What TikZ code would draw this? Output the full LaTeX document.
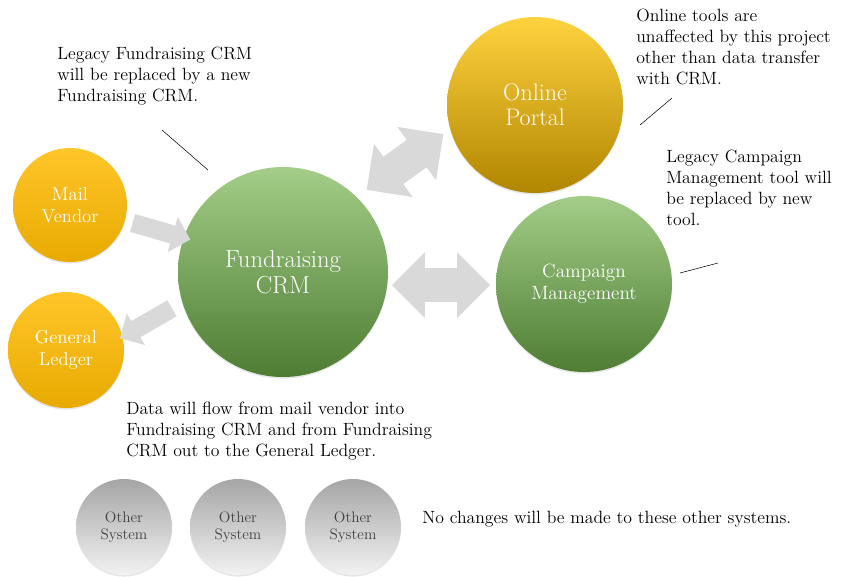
\documentclass[tikz,border=0pt]{standalone}
\usetikzlibrary{shapes.arrows,positioning,shadows}
\definecolor{crmtop}{HTML}{A3CD88}
\definecolor{crmmid}{HTML}{78B14E}
\definecolor{crmbot}{HTML}{4E7D33}
\definecolor{goldtop}{HTML}{FFD23F}
\definecolor{goldmid}{HTML}{F2B900}
\definecolor{goldbot}{HTML}{B08600}
\definecolor{ambtop}{HTML}{FFC62A}
\definecolor{ambmid}{HTML}{FFC000}
\definecolor{ambbot}{HTML}{E8AA00}
\definecolor{greytop}{HTML}{A5A5A5}
\definecolor{greybot}{HTML}{F2F2F2}
\definecolor{flowgrey}{HTML}{D9D9D9}

\begin{document}
\begin{tikzpicture}[x=0.75pt,y=-0.75pt,line cap=round,
  bubble/.style={circle,inner sep=0pt,align=center,text=white,
    drop shadow={opacity=0.2,shadow xshift=0pt,shadow yshift=-1.2pt}},
  greenball/.style={bubble,top color=crmtop,middle color=crmmid,bottom color=crmbot},
  goldball/.style={bubble,top color=goldtop,middle color=goldmid,bottom color=goldbot},
  amberball/.style={bubble,top color=ambtop,middle color=ambmid,bottom color=ambbot},
  otherball/.style={bubble,top color=greytop,bottom color=greybot,text=black!75,
    minimum size=72pt,font=\fontsize{11.4}{13}\selectfont},
  oneway/.style={single arrow,fill=flowgrey,inner sep=6.75pt,minimum height=45pt,
    minimum width=27pt,single arrow head extend=6.75pt},
  twoway/.style={double arrow,fill=flowgrey,inner sep=12.5pt,
    minimum width=49pt,double arrow head extend=12pt},
  note/.style={align=left,anchor=north west,inner sep=0pt,
    font=\fontsize{13.3}{15.8}\selectfont}]
\useasboundingbox (0,0) rectangle (856,576);

% systems
\node[greenball,minimum size=157.5pt,font=\fontsize{18.5}{19}\selectfont] (crm) at (283,272) {Fundraising\\CRM};
\node[goldball,minimum size=132pt,font=\fontsize{18}{19}\selectfont] (portal) at (535,105) {Online\\Portal};
\node[greenball,minimum size=132pt,font=\fontsize{14.4}{16.5}\selectfont] (campaign) at (584,284) {Campaign\\Management};
\node[amberball,minimum size=85.5pt,font=\fontsize{14}{16.5}\selectfont] (mail) at (70,205) {Mail\\Vendor};
\node[amberball,minimum size=87pt,font=\fontsize{14}{16.5}\selectfont] (ledger) at (66,350) {General\\Ledger};
\foreach \n/\x in {1/124,2/238,3/353}
  \node[otherball] (other\n) at (\x,527) {Other\\System};

% flows
\node[oneway,rotate=-16] (mailflow) at (157,230) {};
\node[oneway,rotate=210] (ledgerflow) at (150,321) {};
\node[twoway,rotate=36,minimum height=71pt] (portalflow) at (405,162) {};
\node[twoway,minimum height=73.5pt] (campflow) at (441,285) {};

% notes
\node[note] (crmnote) at (57,47) {Legacy Fundraising CRM\\will be replaced by a new\\Fundraising CRM.};
\node[note] (portalnote) at (636,9) {Online tools are\\unaffected by this project\\other than data transfer\\with CRM.};
\node[note] (campnote) at (666,150) {Legacy Campaign\\Management tool will\\be replaced by new\\tool.};
\node[note] (flownote) at (126,402) {Data will flow from mail vendor into\\Fundraising CRM and from Fundraising\\CRM out to the General Ledger.};
\node[note] (othernote) at (422,511) {No changes will be made to these other systems.};

% leader lines
\coordinate (c1) at (162,130);
\coordinate (c2) at (208,170);
\coordinate (p1) at (672,98);
\coordinate (p2) at (640,125);
\coordinate (m1) at (718,263);
\coordinate (m2) at (680,273);
\draw[thin] (c1)--(c2) (p1)--(p2) (m1)--(m2);
\end{tikzpicture}
\end{document}
